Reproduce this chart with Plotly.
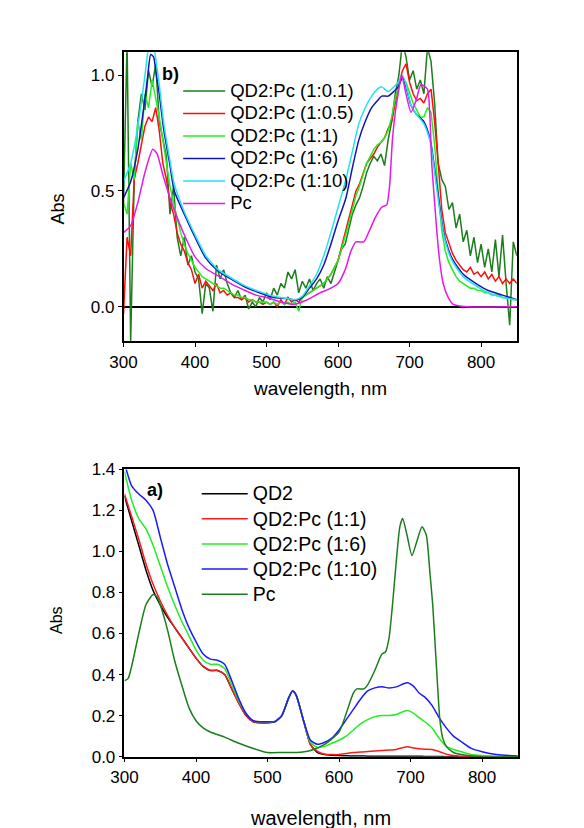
import plotly.graph_objects as go

W, H = 584, 828
FONT = 'Arial, "Liberation Sans", sans-serif'
PAGE_PAD = 8  # default body margin of the html page shifts the figure

# ---------------- panel b) : normalised spectra ----------------
wl_b = list(range(300, 851, 5))  # 5 nm grid of the noisy traces

b_qd2_pc_0_1 = [
    0.45, 1.15, -0.15, 0.55, 0.80, 0.92, 0.85, 1.02, 0.95, 1.05,
    0.80, 0.72, 0.65, 0.40, 0.52, 0.30, 0.22, 0.30, 0.18, 0.22,
    0.15, 0.12, -0.03, 0.10, 0.08, -0.02, 0.18, 0.12, 0.16, 0.10,
    0.06, 0.04, 0.07, 0.03, 0.05, -0.01, 0.02, 0.00, 0.04, 0.02,
    0.06, 0.03, 0.08, 0.05, 0.10, 0.08, 0.15, 0.12, 0.16, 0.06,
    0.11, 0.08, 0.12, 0.07, 0.10, 0.12, 0.08, 0.13, 0.10, 0.15,
    0.20, 0.25, 0.27, 0.33, 0.40, 0.44, 0.47, 0.52, 0.58, 0.62,
    0.65, 0.63, 0.66, 0.61, 0.72, 0.80, 0.92, 1.00, 1.14, 1.08,
    0.98, 1.02, 0.94, 0.98, 0.92, 1.12, 1.06, 0.88, 0.62, 0.55,
    0.52, 0.42, 0.45, 0.34, 0.40, 0.28, 0.33, 0.22, 0.30, 0.19,
    0.27, 0.17, 0.25, 0.15, 0.29, 0.13, 0.31, 0.10, -0.08, 0.28,
    0.22,
]
b_qd2_pc_0_5 = [
    -0.03, 0.30, 0.22, 0.55, 0.62, 0.70, 0.78, 0.82, 0.80, 0.86,
    0.76, 0.62, 0.55, 0.45, 0.40, 0.32, 0.27, 0.24, 0.19, 0.16,
    0.10, 0.14, 0.08, 0.11, 0.09, 0.07, 0.10, 0.06, 0.07, 0.05,
    0.06, 0.04, 0.04, 0.03, 0.04, 0.02, 0.03, 0.02, 0.02, 0.01,
    0.02, 0.01, 0.02, 0.00, 0.03, 0.01, 0.04, 0.02, 0.03, 0.02,
    0.04, 0.05, 0.06, 0.07, 0.08, 0.09, 0.10, 0.12, 0.14, 0.17,
    0.20, 0.26, 0.32, 0.38, 0.44, 0.50, 0.53, 0.58, 0.62, 0.64,
    0.66, 0.69, 0.71, 0.73, 0.77, 0.80, 0.88, 0.96, 1.02, 1.05,
    0.97, 0.92, 0.89, 0.90, 0.88, 0.92, 0.94, 0.80, 0.62, 0.42,
    0.32, 0.27, 0.23, 0.20, 0.18, 0.16, 0.15, 0.17, 0.14, 0.15,
    0.13, 0.15, 0.12, 0.14, 0.11, 0.13, 0.10, 0.12, 0.10, 0.12,
    0.10,
]
b_qd2_pc_1 = [
    0.45, 0.40, 0.62, 0.55, 0.80, 0.72, 0.92, 0.86, 0.98, 0.90,
    0.82, 0.72, 0.62, 0.52, 0.45, 0.38, 0.32, 0.27, 0.23, 0.20,
    0.17, 0.15, 0.13, 0.12, 0.11, 0.10, 0.09, 0.08, 0.08, 0.07,
    0.06, 0.05, 0.05, 0.04, 0.04, 0.03, 0.03, 0.02, 0.02, 0.02,
    0.02, 0.01, 0.02, 0.01, 0.02, 0.01, 0.02, 0.01, 0.02, -0.02,
    0.04, 0.05, 0.06, 0.07, 0.08, 0.09, 0.10, 0.12, 0.14, 0.17,
    0.20, 0.25, 0.30, 0.36, 0.42, 0.48, 0.52, 0.57, 0.62, 0.65,
    0.68, 0.70, 0.71, 0.73, 0.76, 0.82, 0.90, 0.96, 0.99, 0.97,
    0.92, 0.88, 0.85, 0.82, 0.82, 0.86, 0.84, 0.70, 0.50, 0.33,
    0.24, 0.19, 0.16, 0.13, 0.11, 0.10, 0.09, 0.08, 0.08, 0.07,
    0.07, 0.06, 0.06, 0.05, 0.05, 0.05, 0.04, 0.04, 0.04, 0.03,
    0.03,
]

wl_b_smooth = [300, 310, 320, 330, 334, 338, 342, 346, 350, 356,
               365, 371, 385, 400, 415, 432, 450, 470, 490, 510,
               530, 540, 550, 560, 570, 580, 590, 600, 611, 620,
               629, 638, 647, 655, 661, 670, 678, 684, 690, 695,
               702, 710, 720, 729, 738, 747, 754, 761, 775, 793,
               810, 830, 850]
b_qd2_pc_6 = [0.47, 0.54, 0.68, 0.90, 1.00, 1.09, 1.08, 1.00, 0.92, 0.77,
              0.61, 0.50, 0.40, 0.30, 0.21, 0.155, 0.12, 0.085, 0.06, 0.04,
              0.035, 0.028, 0.04, 0.08, 0.12, 0.18, 0.27, 0.37, 0.47, 0.60,
              0.72, 0.80, 0.86, 0.89, 0.91, 0.91, 0.93, 0.95, 0.99, 0.95,
              0.87, 0.83, 0.80, 0.72, 0.53, 0.33, 0.25, 0.20, 0.14, 0.10,
              0.07, 0.05, 0.03]
b_qd2_pc_10 = [0.54, 0.62, 0.78, 1.00, 1.10, 1.15, 1.13, 1.05, 0.96, 0.80,
               0.63, 0.53, 0.41, 0.31, 0.22, 0.16, 0.125, 0.09, 0.065, 0.045,
               0.035, 0.03, 0.045, 0.09, 0.14, 0.22, 0.32, 0.43, 0.55, 0.67,
               0.79, 0.86, 0.91, 0.94, 0.95, 0.93, 0.95, 0.97, 1.00, 0.96,
               0.87, 0.83, 0.79, 0.71, 0.51, 0.32, 0.24, 0.19, 0.13, 0.09,
               0.06, 0.04, 0.03]

wl_b_pc = [300, 310, 320, 330, 341, 347, 355, 365, 375, 388,
           400, 415, 434, 450, 470, 485, 500, 520, 538, 557,
           575, 590, 600, 610, 618, 625, 636, 644, 652, 661,
           668, 672, 676, 680, 684, 689, 695, 702, 709, 716,
           725, 728, 731, 735, 738, 742, 747, 754, 761, 780, 850]
b_pc = [0.32, 0.35, 0.45, 0.58, 0.68, 0.66, 0.57, 0.47, 0.385, 0.29,
        0.215, 0.165, 0.13, 0.10, 0.07, 0.05, 0.04, 0.02, 0.01, 0.03,
        0.06, 0.08, 0.10, 0.16, 0.24, 0.28, 0.28, 0.33, 0.385, 0.43,
        0.44, 0.52, 0.72, 0.84, 0.92, 1.00, 0.92, 0.84, 0.89, 0.96,
        0.94, 0.85, 0.62, 0.45, 0.33, 0.20, 0.10, 0.04, 0.01, 0.0, 0.0]

# ---------------- panel a) : absolute spectra ----------------
wl_a = [300, 310, 320, 330, 340, 350, 360, 370, 380, 390,
        400, 410, 420, 430, 440, 450, 460, 470, 480, 490,
        500, 510, 520, 530, 535,
        540, 550, 560, 570, 580, 590, 600, 610, 620, 630, 640, 650, 660, 670, 680, 690,
        696, 705, 712,
        720, 730, 740, 750, 760, 770,
        785, 800, 820, 850]
a_qd2 = [1.27, 1.15, 1.03, 0.91, 0.81, 0.74, 0.68, 0.63, 0.58, 0.53,
         0.48, 0.44, 0.42, 0.42, 0.40, 0.33, 0.26, 0.20, 0.17, 0.165,
         0.165, 0.17, 0.20, 0.29, 0.32,
         0.30, 0.18, 0.06, 0.02, 0.01, 0.007, 0.005, 0.004, 0.003, 0.003, 0.002, 0.002, 0.002, 0.002, 0.002, 0.002,
         0.002, 0.002, 0.002,
         0.001, 0.001, 0.001, 0.0, 0.0, 0.0,
         0.0, 0.0, 0.0, 0.0]
a_qd2_pc_1 = [1.28, 1.17, 1.06, 0.94, 0.84, 0.76, 0.69, 0.63, 0.58, 0.53,
              0.48, 0.44, 0.42, 0.42, 0.40, 0.33, 0.26, 0.20, 0.17, 0.165,
              0.165, 0.17, 0.20, 0.29, 0.32,
              0.30, 0.18, 0.06, 0.025, 0.012, 0.01, 0.01, 0.015, 0.02, 0.022, 0.025, 0.028, 0.03, 0.032, 0.035, 0.045,
              0.048, 0.042, 0.038,
              0.036, 0.035, 0.025, 0.012, 0.005, 0.002,
              0.0, 0.0, 0.0, 0.0]
a_qd2_pc_6 = [1.39, 1.25, 1.16, 1.11, 1.03, 0.93, 0.83, 0.74, 0.66, 0.59,
              0.52, 0.47, 0.45, 0.45, 0.43, 0.35, 0.27, 0.21, 0.175, 0.17,
              0.17, 0.17, 0.20, 0.29, 0.32,
              0.30, 0.18, 0.07, 0.045, 0.05, 0.065, 0.08, 0.10, 0.13, 0.16, 0.18, 0.195, 0.20, 0.20, 0.205, 0.22,
              0.225, 0.21, 0.19,
              0.17, 0.14, 0.09, 0.05, 0.035, 0.025,
              0.01, 0.005, 0.002, 0.0]
a_qd2_pc_10 = [1.43, 1.32, 1.28, 1.25, 1.20, 1.07, 0.94, 0.83, 0.72, 0.63,
               0.56, 0.50, 0.475, 0.47, 0.45, 0.37, 0.28, 0.21, 0.175, 0.17,
               0.17, 0.17, 0.20, 0.29, 0.32,
               0.30, 0.18, 0.08, 0.06, 0.07, 0.09, 0.13, 0.18, 0.23, 0.28, 0.32, 0.335, 0.34, 0.335, 0.34, 0.355,
               0.36, 0.34, 0.31,
               0.29, 0.25, 0.19, 0.14, 0.10, 0.075,
               0.04, 0.024, 0.01, 0.003]

wl_a_pc = [300, 305, 310, 320, 330, 340, 345, 350, 360, 370,
           380, 390, 400, 410, 420, 440, 460, 480, 500, 520,
           540, 560, 580, 600, 610, 620, 625, 635, 640, 650,
           660, 665, 670, 675, 680, 685, 689, 695, 702, 708,
           716, 722, 727, 731, 736, 741, 745, 750, 760, 780, 800, 850]
a_pc = [0.37, 0.38, 0.44, 0.60, 0.74, 0.79, 0.78, 0.74, 0.62, 0.47,
        0.35, 0.24, 0.175, 0.14, 0.12, 0.095, 0.065, 0.04, 0.02, 0.02,
        0.02, 0.03, 0.06, 0.12, 0.21, 0.31, 0.33, 0.33, 0.35, 0.42,
        0.50, 0.51, 0.58, 0.75, 0.95, 1.12, 1.16, 1.08, 0.98, 1.04,
        1.12, 1.08, 0.90, 0.74, 0.45, 0.18, 0.09, 0.05, 0.02, 0.005, 0.0, 0.0]


# screen pixel -> paper fraction (the page puts the figure 8 px in from the corner)
def fx(px):
    return (px - PAGE_PAD) / W


def fy(py):
    return 1 - (py - PAGE_PAD) / H


def label(text, px, py, size, angle=0):
    return dict(text=text, x=fx(px), y=fy(py), xref='paper', yref='paper',
                xanchor='center', yanchor='middle', showarrow=False,
                textangle=angle, font=dict(size=size))


fig = go.Figure()

top_series = [
    ('QD2:Pc (1:0.1)', wl_b, b_qd2_pc_0_1, '#1b7d1b', 'linear'),
    ('QD2:Pc (1:0.5)', wl_b, b_qd2_pc_0_5, '#ff0d0d', 'linear'),
    ('QD2:Pc (1:1)', wl_b, b_qd2_pc_1, '#22ee22', 'linear'),
    ('QD2:Pc (1:6)', wl_b_smooth, b_qd2_pc_6, '#1414b4', 'spline'),
    ('QD2:Pc (1:10)', wl_b_smooth, b_qd2_pc_10, '#22e2f0', 'spline'),
    ('Pc', wl_b_pc, b_pc, '#e619e6', 'spline'),
]
for name, x, y, color, shape in top_series:
    fig.add_trace(go.Scatter(
        x=x, y=y, mode='lines',
        name=f'<span style="font-size:18.5px">{name}</span>',
        line=dict(color=color, width=1.5, shape=shape, smoothing=0.6),
        xaxis='x', yaxis='y', legend='legend'))

bottom_series = [
    ('QD2', wl_a, a_qd2, '#000000'),
    ('QD2:Pc (1:1)', wl_a, a_qd2_pc_1, '#ff1a1a'),
    ('QD2:Pc (1:6)', wl_a, a_qd2_pc_6, '#22ee22'),
    ('QD2:Pc (1:10)', wl_a, a_qd2_pc_10, '#1a1aff'),
    ('Pc', wl_a_pc, a_pc, '#1b7d1b'),
]
for name, x, y, color in bottom_series:
    fig.add_trace(go.Scatter(
        x=x, y=y, mode='lines',
        name=f'<span style="font-size:19.5px">{name}</span>',
        line=dict(color=color, width=1.5, shape='spline', smoothing=0.6),
        xaxis='x2', yaxis='y2', legend='legend2'))

axis_common = dict(showline=True, mirror=True, linecolor='black', linewidth=1.5,
                   ticks='outside', ticklen=4, tickcolor='black', showgrid=False,
                   tickfont=dict(family=FONT, size=17, color='black'))

fig.update_layout(
    width=W, height=H,
    margin=dict(l=0, r=0, t=0, b=0),
    paper_bgcolor='white', plot_bgcolor='white',
    font=dict(family=FONT, color='black'),
    xaxis=dict(domain=[fx(112), fx(515)], range=[300, 850], anchor='y',
               tickvals=[300, 400, 500, 600, 700, 800], zeroline=False, **axis_common),
    yaxis=dict(domain=[fy(340), fy(44)], range=[-0.15, 1.10], anchor='x',
               tickvals=[0, 0.5, 1.0], tickformat='.1f', zeroline=True,
               zerolinecolor='black', zerolinewidth=1.5, **axis_common),
    xaxis2=dict(domain=[fx(113), fx(516)], range=[300, 850], anchor='y2',
                tickvals=[300, 400, 500, 600, 700, 800], zeroline=False, **axis_common),
    yaxis2=dict(domain=[fy(765), fy(471)], range=[0, 1.4], anchor='x2',
                dtick=0.2, tickformat='.1f', zeroline=False, **axis_common),
    legend=dict(x=fx(168), y=fy(67), xanchor='left', yanchor='top',
                bgcolor='rgba(0,0,0,0)', font=dict(family=FONT, size=15),
                itemwidth=42, tracegroupgap=0),
    legend2=dict(x=fx(187), y=fy(478), xanchor='left', yanchor='top',
                 bgcolor='rgba(0,0,0,0)', font=dict(family=FONT, size=17),
                 itemwidth=46, tracegroupgap=0),
    annotations=[
        label('<b>b)</b>', 160, 66, 18),
        label('<b>a)</b>', 144, 492, 18),
        label('Abs', 45, 205, 18, -90),
        label('Abs', 44, 625, 16, -90),
        label('wavelength, nm', 313, 388, 19),
        label('wavelength, nm', 314, 828, 20),
    ],
)

fig.write_html("out.html")
